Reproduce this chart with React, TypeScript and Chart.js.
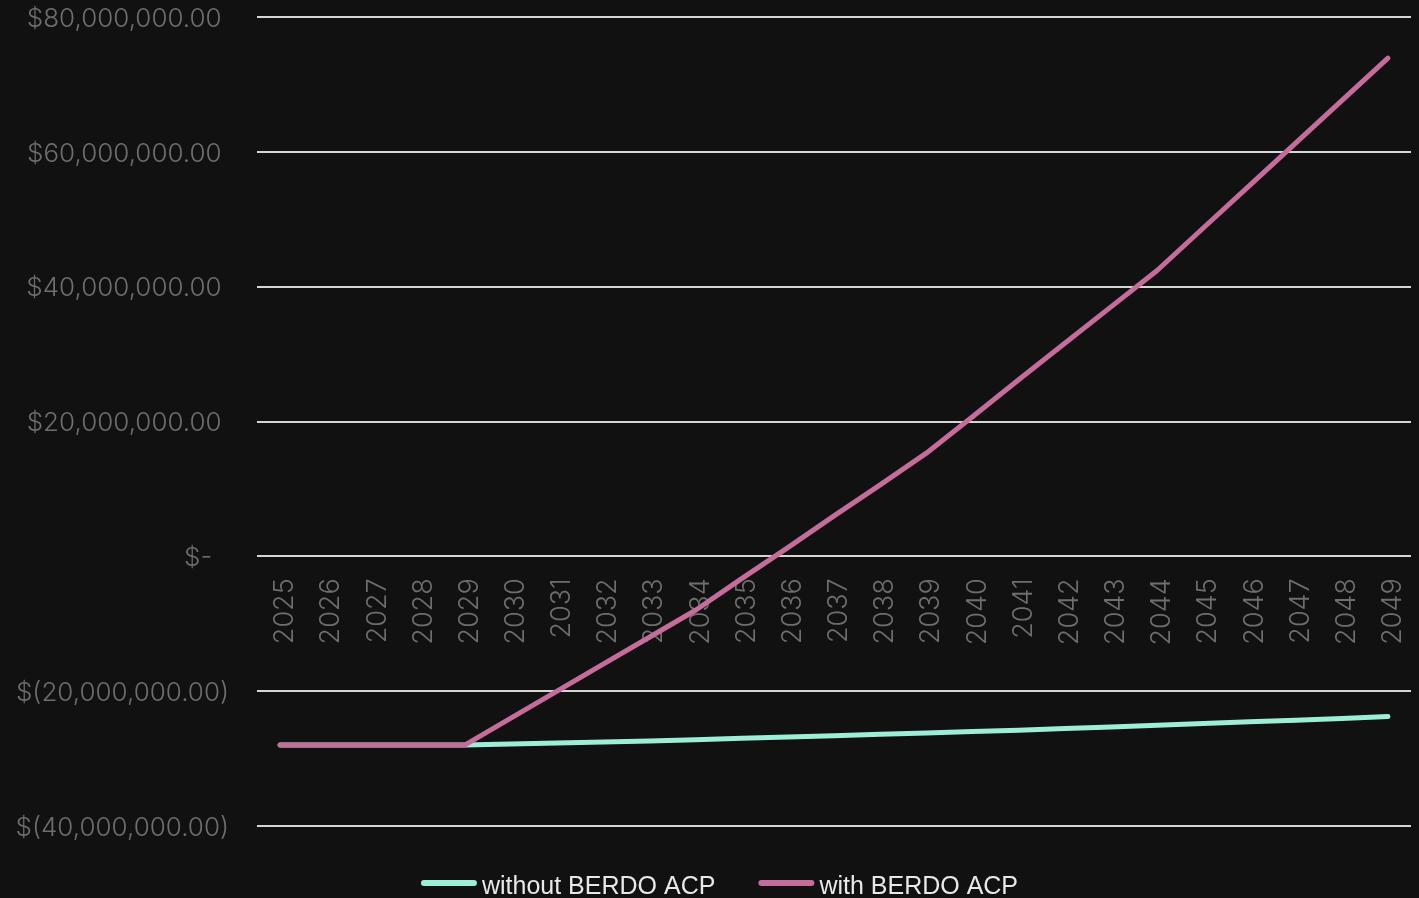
import { useEffect, useRef } from "react";
import { Chart, registerables } from "chart.js";

Chart.register(...registerables);

// Years on the category axis
const years = [
  "2025", "2026", "2027", "2028", "2029", "2030", "2031", "2032", "2033",
  "2034", "2035", "2036", "2037", "2038", "2039", "2040", "2041", "2042",
  "2043", "2044", "2045", "2046", "2047", "2048", "2049",
];

// Cumulative position without the alternative compliance payment (USD)
const withoutAcp = [
  -28000000, -28000000, -28000000, -28000000, -28000000, -27850000, -27700000,
  -27550000, -27400000, -27200000, -27000000, -26800000, -26600000, -26400000,
  -26200000, -26000000, -25800000, -25550000, -25300000, -25050000, -24800000,
  -24550000, -24300000, -24050000, -23750000,
];

// Cumulative position with the alternative compliance payment (USD)
const withAcp = [
  -28000000, -28000000, -28000000, -28000000, -28000000, -24000000, -20000000,
  -16000000, -12000000, -8000000, -3300000, 1300000, 6000000, 10600000,
  15300000, 20700000, 26200000, 31600000, 37000000, 42400000, 48700000,
  55000000, 61300000, 67600000, 73900000,
];

const seriesLabels = ["without BERDO ACP", "with BERDO ACP"];
const seriesColors = ["#9deed6", "#c56c9b"];

const Y_MIN = -40000000;
const Y_MAX = 80000000;
const Y_STEP = 20000000;

const BG = "#111111";
const TICK_COLOR = "#6e6e6e";
const GRID_COLOR = "#d6d6d6";
const TICK_FONT = "Inter, 'Noto Sans', sans-serif";

// Accounting-style currency: $1,234.00 / $(1,234.00) / $-
function money(v: number): string {
  if (v === 0) return "$-\u2007";
  const s = Math.abs(v).toLocaleString("en-US", {
    minimumFractionDigits: 2,
    maximumFractionDigits: 2,
  });
  return v < 0 ? `$(${s})` : `$${s}\u2008`;
}

// Scales should not push the plot area in for label overhang
function noOverhang(scale: any) {
  scale.paddingTop = 0;
  scale.paddingBottom = 0;
  scale.paddingLeft = 0;
  scale.paddingRight = 0;
}

// Bottom legend: short rounded line swatch followed by the series name
const lineLegend = {
  id: "lineLegend",
  afterDraw(chart: any) {
    const ctx: CanvasRenderingContext2D = chart.ctx;
    const sets = chart.data.datasets;
    const swatch = 50;
    const thick = 6;
    const gap = 5;
    const between = 43;
    ctx.save();
    ctx.font = "25px 'Liberation Sans', Arial, sans-serif";
    const widths = sets.map((d: any) => ctx.measureText(d.label).width);
    let total = 0;
    widths.forEach((w: number, i: number) => {
      total += thick + swatch + gap + w + (i > 0 ? between : 0);
    });
    let x = chart.width / 2 + 10 - total / 2;
    const lineY = chart.height - 15;
    const baseY = chart.height - 4;
    sets.forEach((d: any, i: number) => {
      ctx.strokeStyle = d.borderColor;
      ctx.lineWidth = thick;
      ctx.lineCap = "round";
      ctx.beginPath();
      ctx.moveTo(x + thick / 2, lineY);
      ctx.lineTo(x + thick / 2 + swatch, lineY);
      ctx.stroke();
      x += thick + swatch + gap;
      ctx.fillStyle = "#e8e8e8";
      ctx.textBaseline = "alphabetic";
      ctx.textAlign = "left";
      ctx.fillText(d.label, x, baseY);
      x += widths[i] + between;
    });
    ctx.restore();
  },
};

export default function App() {
  const ref = useRef<HTMLCanvasElement | null>(null);

  useEffect(() => {
    if (!ref.current) return;
    const chart = new Chart(ref.current, {
      type: "line",
      data: {
        labels: years,
        datasets: [
          {
            label: seriesLabels[0],
            data: withoutAcp,
            borderColor: seriesColors[0],
            backgroundColor: seriesColors[0],
            borderWidth: 5,
            pointRadius: 0,
            tension: 0,
            borderCapStyle: "round",
            borderJoinStyle: "round",
            order: 1,
          },
          {
            label: seriesLabels[1],
            data: withAcp,
            borderColor: seriesColors[1],
            backgroundColor: seriesColors[1],
            borderWidth: 5,
            pointRadius: 0,
            tension: 0,
            borderCapStyle: "round",
            borderJoinStyle: "round",
            order: 0,
          },
        ],
      },
      options: {
        animation: false,
        responsive: false,
        maintainAspectRatio: false,
        layout: { padding: { top: 17, bottom: 72, left: 0, right: 8 } },
        plugins: {
          legend: { display: false },
          tooltip: { enabled: false },
        },
        scales: {
          x: {
            type: "category",
            offset: true,
            position: { y: 0 },
            afterFit: noOverhang,
            grid: { display: false, drawTicks: false },
            border: { display: false },
            ticks: {
              color: TICK_COLOR,
              font: { family: TICK_FONT, size: 27, weight: "300" },
              minRotation: 90,
              maxRotation: 90,
              autoSkip: false,
              padding: 22,
              labelOffset: 5,
            },
          },
          y: {
            min: Y_MIN,
            max: Y_MAX,
            afterFit(scale: any) {
              noOverhang(scale);
              scale.width = 257;
            },
            grid: {
              color: GRID_COLOR,
              lineWidth: 2,
              drawTicks: false,
            },
            border: { display: false },
            ticks: {
              stepSize: Y_STEP,
              color: TICK_COLOR,
              font: { family: TICK_FONT, size: 26, weight: "300" },
              padding: 28,
              labelOffset: 2,
              callback: (v: any) => money(Number(v)),
            },
          },
        },
      },
      plugins: [lineLegend],
    });
    return () => chart.destroy();
  }, []);

  return (
    <div
      style={{
        position: "fixed",
        left: 0,
        top: 0,
        width: 1419,
        height: 898,
        background: BG,
        overflow: "hidden",
      }}
    >
      <canvas ref={ref} width={1419} height={898} style={{ display: "block" }} />
    </div>
  );
}
